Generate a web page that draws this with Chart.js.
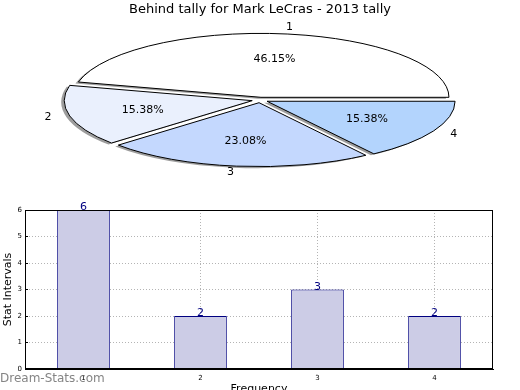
<!DOCTYPE html>
<html>
<head>
<meta charset="utf-8">
<script src="https://cdn.jsdelivr.net/npm/chart.js@4/dist/chart.umd.min.js"></script>
<style>
  html, body { margin: 0; padding: 0; background: #fff; overflow: hidden; width: 520px; height: 390px; }
  #pieBox { position: absolute; left: 0; top: 0; width: 520px; height: 190px; }
  #barBox { position: absolute; left: 0; top: 190px; width: 520px; height: 210px; }
  #mark { position: absolute; left: 0; top: 371px; font: 12px "DejaVu Sans"; color: rgba(110,110,110,0.85); }
</style>
</head>
<body>
<div id="pieBox"><canvas id="pie" width="520" height="190"></canvas></div>
<div id="barBox"><canvas id="bar" width="520" height="210"></canvas></div>
<div id="mark">Dream-Stats.com</div>
<script>
// data
let categories = ["1", "2", "3", "4"];
let tallies = [6, 2, 3, 2];
let sliceColors = ["#ffffff", "#eaf0fd", "#c4d8fe", "#b3d4fd"];
let yTicks = [0, 1, 2, 3, 4, 5, 6];
let chartTitle = "Behind tally for Mark LeCras - 2013 tally";

let font = "DejaVu Sans";
let squash = 0.34;   // pie is drawn as an ellipse
let pieCenterY = 100;
let explode = 8;

let total = tallies.reduce((a, b) => a + b, 0);

// matplotlib goes counter clockwise, chart.js clockwise -> reverse
let pieLabels = categories.slice().reverse();
let pieValues = tallies.slice().reverse();
let pieColors = sliceColors.slice().reverse();

function squashTransform(chart, ctx) {
  let ca = chart.chartArea;
  let cx = (ca.left + ca.right) / 2;
  let cy = (ca.top + ca.bottom) / 2;
  ctx.translate(cx, pieCenterY);
  ctx.scale(1, squash);
  ctx.translate(-cx, -cy);
  return { cx: cx, cy: cy };
}

let piePlugin = {
  id: "squashPie",
  afterDatasetsUpdate(chart) {
    // explode every slice along its middle angle
    chart.getDatasetMeta(0).data.forEach(function (arc) {
      let mid = (arc.startAngle + arc.endAngle) / 2;
      arc.x += Math.cos(mid) * explode;
      arc.y += Math.sin(mid) * explode;
    });
  },
  beforeDatasetsDraw(chart) {
    let ctx = chart.ctx;
    ctx.save();
    squashTransform(chart, ctx);
    ctx.shadowColor = "rgba(60,60,60,0.5)";
    ctx.shadowOffsetX = -3;
    ctx.shadowOffsetY = 1.5;
    ctx.shadowBlur = 0;
  },
  afterDatasetsDraw(chart) {
    let ctx = chart.ctx;
    ctx.restore();
    let arcs = chart.getDatasetMeta(0).data;
    let ca = chart.chartArea;
    let cy = (ca.top + ca.bottom) / 2;
    // outlines, stroked without the squash so the line keeps its width
    arcs.forEach(function (arc) {
      ctx.save();
      squashTransform(chart, ctx);
      ctx.beginPath();
      ctx.moveTo(arc.x, arc.y);
      ctx.arc(arc.x, arc.y, arc.outerRadius, arc.startAngle, arc.endAngle);
      ctx.closePath();
      ctx.restore();
      ctx.lineWidth = 1;
      ctx.strokeStyle = "#000";
      ctx.stroke();
    });
    // labels and percentages
    ctx.save();
    ctx.fillStyle = "#000";
    ctx.font = "11px '" + font + "'";
    ctx.textBaseline = "middle";
    arcs.forEach(function (arc, i) {
      let mid = (arc.startAngle + arc.endAngle) / 2;
      let r = arc.outerRadius;
      let lx = arc.x + Math.cos(mid) * r * 1.1;
      let ly = pieCenterY + (arc.y + Math.sin(mid) * r * 1.1 - cy) * squash;
      ctx.textAlign = Math.cos(mid) > 0 ? "left" : "right";
      ctx.fillText(pieLabels[i], lx, ly);
      let px = arc.x + Math.cos(mid) * r * 0.6;
      let py = pieCenterY + (arc.y + Math.sin(mid) * r * 0.6 - cy) * squash;
      ctx.textAlign = "center";
      ctx.fillText((pieValues[i] / total * 100).toFixed(2) + "%", px, py);
    });
    ctx.restore();
  },
};

new Chart(document.getElementById("pie"), {
  type: "pie",
  data: {
    labels: pieLabels,
    datasets: [
      {
        data: pieValues,
        backgroundColor: pieColors,
        borderWidth: 0,
        clip: false,
      },
    ],
  },
  options: {
    responsive: false,
    animation: false,
    events: [],
    rotation: 90,
    radius: 188,
    layout: { padding: 0 },
    plugins: {
      legend: { display: false },
      tooltip: { enabled: false },
      title: {
        display: true,
        text: chartTitle,
        color: "#000",
        font: { family: font, size: 13, weight: "normal" },
        padding: { top: 2, bottom: 0 },
      },
    },
  },
  plugins: [piePlugin],
});

// bar chart
let barPlugin = {
  id: "frameAndValues",
  afterDraw(chart) {
    let ctx = chart.ctx;
    let ca = chart.chartArea;
    ctx.save();
    ctx.strokeStyle = "#000";
    ctx.lineWidth = 1;
    ctx.strokeRect(Math.round(ca.left) + 0.5, Math.round(ca.top) + 0.5,
      Math.round(ca.right - ca.left) - 1, Math.round(ca.bottom - ca.top) - 1);
    ctx.fillStyle = "#000080";
    ctx.font = "11px '" + font + "'";
    ctx.textAlign = "center";
    ctx.textBaseline = "alphabetic";
    chart.getDatasetMeta(0).data.forEach(function (bar, i) {
      ctx.fillText(String(tallies[i]), bar.x, bar.y);
    });
    ctx.restore();
  },
};

let gridColor = "#b4b4b4";

new Chart(document.getElementById("bar"), {
  type: "bar",
  data: {
    labels: categories,
    datasets: [
      {
        data: tallies,
        backgroundColor: "#ccccE6",
        borderColor: "#000080",
        borderWidth: 1,
        categoryPercentage: 1,
        barPercentage: 0.45,
      },
    ],
  },
  options: {
    responsive: false,
    animation: false,
    events: [],
    layout: { padding: { left: 0, right: 27, top: 20, bottom: 0 } },
    plugins: {
      legend: { display: false },
      tooltip: { enabled: false },
    },
    scales: {
      x: {
        z: 1,
        afterFit: function (scale) { scale.height = 31; },
        grid: {
          offset: false,
          color: gridColor,
          drawTicks: true,
          tickLength: -3,
          tickColor: "#000",
        },
        border: { color: "#000", width: 1, dash: [1, 2] },
        ticks: { color: "#000", font: { family: font, size: 7 }, padding: 8 },
        title: {
          display: true,
          text: "Frequency",
          color: "#000",
          font: { family: font, size: 11 },
          padding: { top: 0, bottom: 4 },
        },
      },
      y: {
        z: 1,
        min: 0,
        max: 6,
        afterFit: function (scale) { scale.width = 25; },
        afterBuildTicks: function (scale) {
          scale.ticks = yTicks.map((v) => ({ value: v }));
        },
        grid: {
          color: gridColor,
          drawTicks: true,
          tickLength: -3,
          tickColor: "#000",
        },
        border: { color: "#000", width: 1, dash: [1, 2] },
        ticks: { color: "#000", font: { family: font, size: 7 }, padding: 6 },
        title: {
          display: true,
          text: "Stat Intervals",
          color: "#000",
          font: { family: font, size: 11 },
          padding: { top: 2, bottom: 0 },
        },
      },
    },
  },
  plugins: [barPlugin],
});
</script>
</body>
</html>
